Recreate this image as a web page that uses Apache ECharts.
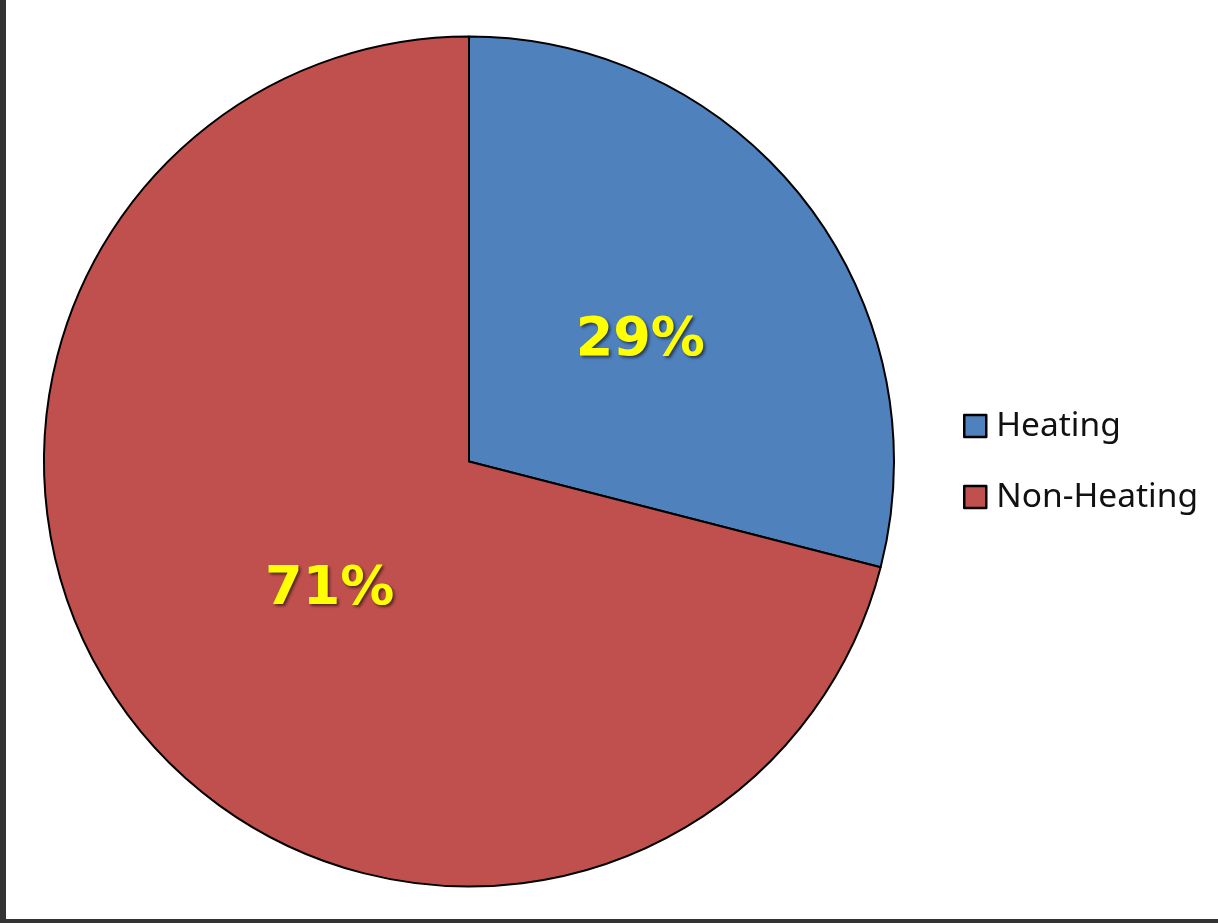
<!DOCTYPE html>
<html>
<head>
<meta charset="utf-8">
<script src="https://cdn.jsdelivr.net/npm/echarts@6/dist/echarts.min.js"></script>
<style>
html,body{margin:0;padding:0;background:#333333;width:1218px;height:923px;overflow:hidden;}
#chart{position:absolute;left:6px;top:0;width:1212px;height:919px;background:#ffffff;}
</style>
</head>
<body>
<div id="chart"></div>
<script>
const categories = ['Heating', 'Non-Heating'];
const values = [29, 71];
const colors = ['#4F81BD', '#C0504D'];
const labelOffsets = [[1, 12], [31, -4]];

const chart = echarts.init(document.getElementById('chart'), null, {renderer: 'canvas'});
chart.setOption({
  animation: false,
  backgroundColor: '#ffffff',
  legend: {
    orient: 'vertical',
    left: 957,
    top: 409,
    padding: 0,
    itemWidth: 22,
    itemHeight: 22,
    itemGap: 37,
    icon: 'rect',
    textStyle: {fontFamily: 'Noto Sans', fontSize: 33.5, color: '#111111', lineHeight: 34, padding: [0, 0, 0, 5]},
    itemStyle: {borderColor: '#000', borderWidth: 2.5},
    data: categories
  },
  series: [{
    type: 'pie',
    center: [463, 461.5],
    radius: [0, 425],
    startAngle: 90,
    clockwise: true,
    avoidLabelOverlap: false,
    itemStyle: {borderColor: '#000', borderWidth: 2},
    label: {
      show: true,
      position: 'inside',
      formatter: '{c}%',
      color: '#FFFF00',
      fontFamily: 'DejaVu Sans',
      fontWeight: 'bold',
      fontSize: 54,
      textShadowColor: 'rgba(0,0,0,0.55)',
      textShadowBlur: 3,
      textShadowOffsetX: 2,
      textShadowOffsetY: 2
    },
    labelLine: {show: false},
    emphasis: {disabled: true},
    data: categories.map((c, i) => ({
      name: c,
      value: values[i],
      itemStyle: {color: colors[i]},
      label: {offset: labelOffsets[i]}
    }))
  }]
});
</script>
</body>
</html>
